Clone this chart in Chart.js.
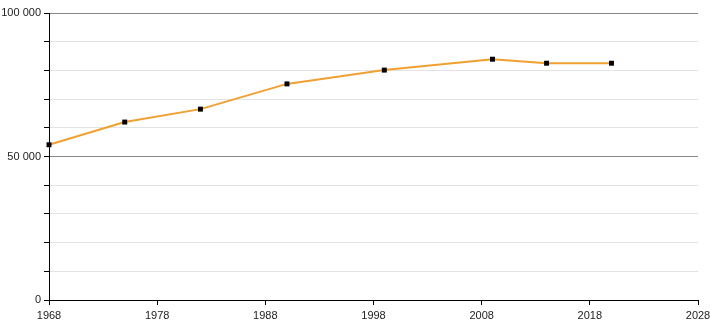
<!DOCTYPE html>
<html>
<head>
<meta charset="utf-8">
<script src="https://cdn.jsdelivr.net/npm/chart.js@4/dist/chart.umd.min.js"></script>
<style>
html,body{margin:0;padding:0;background:#fff;}
#wrap{width:710px;height:320px;position:relative;}
</style>
</head>
<body>
<div id="wrap"><canvas id="c" width="710" height="320"></canvas></div>
<script>
const years = [1968, 1975, 1982, 1990, 1999, 2009, 2014, 2020];
const values = [54100, 62000, 66500, 75300, 80100, 83900, 82500, 82500];
const xTicks = [1968, 1978, 1988, 1998, 2008, 2018, 2028];
const yLabelValues = [0, 50000, 100000];

function fmt(v){ return String(v).replace(/\B(?=(\d{3})+(?!\d))/g, ' '); }

const ctx = document.getElementById('c').getContext('2d');
new Chart(ctx, {
  type: 'line',
  data: {
    datasets: [{
      data: years.map((y, i) => ({x: y, y: values[i]})),
      borderColor: '#f0a030',
      borderWidth: 2,
      tension: 0,
      clip: false,
      pointStyle: 'rect',
      pointRadius: 3.5,
      pointBackgroundColor: '#000',
      pointBorderWidth: 0,
      fill: false
    }]
  },
  options: {
    responsive: false,
    animation: false,
    devicePixelRatio: 1,
    layout: { padding: { top: 13, right: 12, left: 0, bottom: 0 } },
    plugins: { legend: { display: false }, tooltip: { enabled: false } },
    scales: {
      x: {
        type: 'linear',
        min: 1968, max: 2028,
        afterBuildTicks: (s) => { s.ticks = xTicks.map(v => ({value: v})); },
        afterFit: (s) => { s.height = 20; s.paddingLeft = 0; s.paddingRight = 0; },
        ticks: {
          autoSkip: false, maxRotation: 0,
          color: '#222',
          font: { family: 'Liberation Sans, Arial, sans-serif', size: 11 },
          padding: 4,
          callback: (v) => String(v)
        },
        grid: { drawOnChartArea: false, drawTicks: true, tickLength: 5, color: '#000' },
        border: { color: '#000', width: 1 }
      },
      y: {
        min: 0, max: 100000,
        afterFit: (s) => { s.width = 49; s.paddingTop = 0; s.paddingBottom = 0; },
        ticks: {
          stepSize: 10000,
          color: '#222',
          font: { family: 'Liberation Sans, Arial, sans-serif', size: 11 },
          padding: 3,
          callback: (v) => yLabelValues.includes(v) ? fmt(v) : ''
        },
        grid: {
          drawTicks: true, tickLength: 5,
          color: (c) => (c.tick && c.tick.value % 50000 === 0) ? '#888' : '#e3e3e3',
          tickColor: '#000',
          lineWidth: 1
        },
        border: { color: '#000', width: 1 }
      }
    }
  }
});
</script>
</body>
</html>
